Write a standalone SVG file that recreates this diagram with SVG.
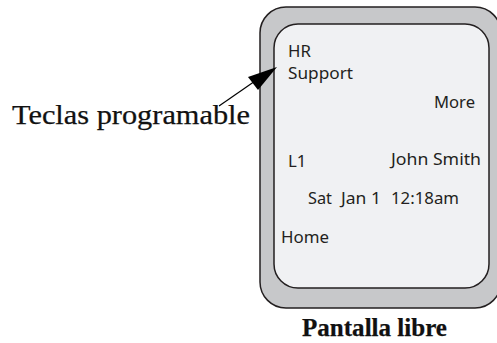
<svg xmlns="http://www.w3.org/2000/svg" width="497" height="343" viewBox="0 0 497 343">
<style>
.s{font-family:"Noto Sans","Open Sans",sans-serif;font-size:16.8px;fill:#231f20}
.c{font-family:"Liberation Serif",serif;fill:#111;stroke:#111;stroke-width:.25px}
</style>
<rect width="497" height="343" fill="#fff"/>
<g id="phone">
<rect x="260" y="7" width="241" height="301" rx="26" fill="#c7c8ca" stroke="#231f20" stroke-width="1.5"/>
<rect x="274" y="24" width="215" height="264" rx="24" fill="#f0f1f3" stroke="#231f20" stroke-width="1.5"/>
</g>
<g id="screen-text">
<text class="s" x="288" y="57">HR</text>
<text class="s" x="288" y="79" textLength="65" lengthAdjust="spacingAndGlyphs">Support</text>
<text class="s" x="434" y="108" textLength="41" lengthAdjust="spacingAndGlyphs">More</text>
<text class="s" x="288" y="167">L1</text>
<text class="s" x="391" y="165" textLength="90" lengthAdjust="spacingAndGlyphs">John Smith</text>
<text class="s" x="308" y="204" textLength="24" lengthAdjust="spacingAndGlyphs">Sat</text>
<text class="s" x="341" y="204" textLength="40" lengthAdjust="spacingAndGlyphs">Jan 1</text>
<text class="s" x="391" y="204" textLength="68" lengthAdjust="spacingAndGlyphs">12:18am</text>
<text class="s" x="281" y="243" textLength="48" lengthAdjust="spacingAndGlyphs">Home</text>
</g>
<g id="connectors">
<line x1="219" y1="106" x2="258" y2="79" stroke="#000" stroke-width="1.2"/>
<polygon points="277,67 248,77 258,90" fill="#000"/>
</g>
<g id="labels">
<text class="c" x="12" y="124" font-size="27" textLength="238" lengthAdjust="spacingAndGlyphs">Teclas programable</text>
<text class="c" x="302" y="336" font-size="25" font-weight="bold" textLength="145" lengthAdjust="spacingAndGlyphs">Pantalla libre</text>
</g>
</svg>
